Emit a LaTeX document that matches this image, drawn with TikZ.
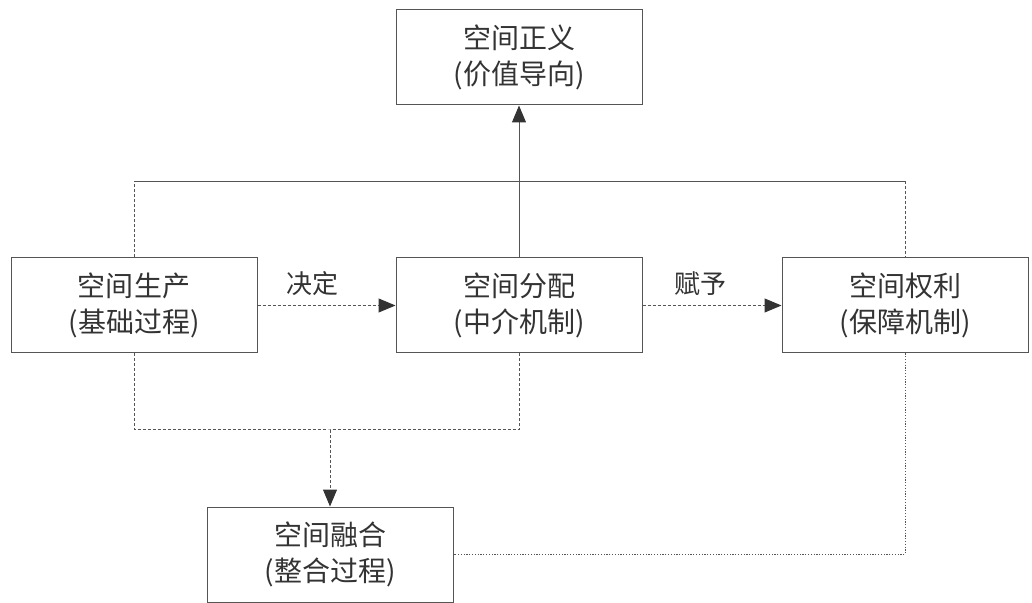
\documentclass[tikz,border=0pt]{standalone}
\usepackage{fontspec}
\newfontfamily\cjk{Noto Sans CJK SC}
\usepackage{xcolor}
\definecolor{linegray}{HTML}{555555}
\definecolor{textgray}{HTML}{333333}
\usepackage{tikz}
\usetikzlibrary{arrows.meta, positioning, calc}
\tikzset{
    box/.style={
        rectangle, draw=linegray, line width=0.5pt,
        minimum width=123pt, minimum height=47.5pt,
        align=center, text=textgray,
        font=\cjk\fontsize{14pt}{18pt}\selectfont,
        node distance=69pt
    },
    lbl/.style={
        inner sep=0pt, text=textgray,
        font=\cjk\fontsize{13pt}{16pt}\selectfont
    },
    sline/.style={linegray, line width=0.5pt},
    dline/.style={sline, dash pattern=on 1.5pt off 1pt},
    tline/.style={sline, dash pattern=on 0.6pt off 0.8pt},
    arr/.style={-{Triangle[length=8.5pt, width=7pt, color=textgray, fill=textgray]}},
}
\begin{document}
\begin{tikzpicture}
            \useasboundingbox (0,0) rectangle (516pt,-301.5pt);
            % Draw boxes
            \node[box] (fp) at (259.5pt,-152.75pt) {空间分配\\(中介机制)};
            \node[box, left=of fp] (sc) {空间生产\\(基础过程)};
            \node[box, right=69.5pt of fp] (qt) {空间权利\\(保障机制)};
            \node[box, above=76pt of fp] (zy) {空间正义\\(价值导向)};
            \node[box, below=76.5pt of fp, xshift=-94.5pt] (rh) {空间融合\\(整合过程)};

            % Helper points
            \coordinate (t) at ($(fp.north)!0.5!(zy.south)$);
            \coordinate (j) at ($(rh.north)+(0,38.25pt)$);

            % Draw connectors
            \draw[dline, arr] (sc) -- node[lbl, above=4.5pt, xshift=-7pt] {决定} (fp);
            \draw[dline, arr] (fp) -- node[lbl, above=4.5pt, xshift=-6pt] {赋予} (qt);
            \draw[sline, arr] (fp.north) -- (zy.south);
            \draw[dline] (sc.north) -- (sc.north |- t);
            \draw[sline] (sc.north |- t) -- (qt.north |- t);
            \draw[dline] (qt.north |- t) -- (qt.north);
            \draw[dline] (sc.south) |- (j) -| (fp.south);
            \draw[dline, arr] (j) -- (rh.north);
            \draw[tline] (qt.south) |- (rh.east);

        \end{tikzpicture}
\end{document}
